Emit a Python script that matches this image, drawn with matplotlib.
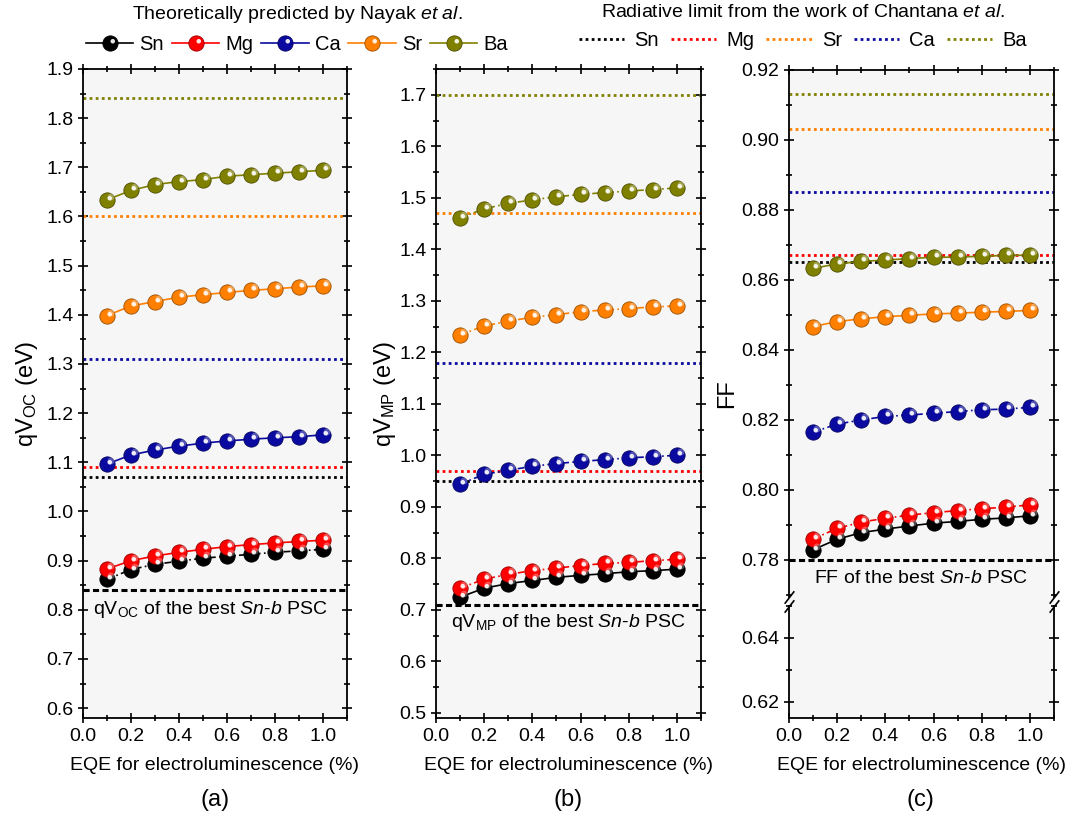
import numpy as np
import matplotlib
matplotlib.use("Agg")
import matplotlib.pyplot as plt
from matplotlib.lines import Line2D
from matplotlib.path import Path
from matplotlib.patches import Rectangle
from matplotlib.legend_handler import HandlerTuple
from matplotlib.ticker import MultipleLocator
import matplotlib.colors as mcolors

plt.rcParams['font.family'] = ['Liberation Sans', 'DejaVu Sans']
plt.rcParams['mathtext.fontset'] = 'custom'
plt.rcParams['mathtext.rm'] = 'Liberation Sans'
plt.rcParams['mathtext.it'] = 'Liberation Sans:italic'
plt.rcParams['mathtext.bf'] = 'Liberation Sans:bold'

# ---- data ----
eqe = [0.1, 0.2, 0.3, 0.4, 0.5, 0.6, 0.7, 0.8, 0.9, 1.0]
elements = ["Sn", "Mg", "Ca", "Sr", "Ba"]
limit_order = ["Sn", "Mg", "Sr", "Ca", "Ba"]
colors = {"Sn": "#000000", "Mg": "#ff0000", "Ca": "#0a0aa0", "Sr": "#ff8000", "Ba": "#808000"}

# (a) qVoc
voc_Sn = [0.862, 0.882, 0.8925, 0.899, 0.905, 0.909, 0.913, 0.917, 0.920, 0.923]
voc_Mg = [0.883, 0.900, 0.9095, 0.917, 0.923, 0.9286, 0.9327, 0.936, 0.939, 0.9415]
voc_Ca = [1.0966, 1.115, 1.125, 1.133, 1.139, 1.1435, 1.147, 1.150, 1.152, 1.156]
voc_Sr = [1.3986, 1.418, 1.427, 1.436, 1.4408, 1.4456, 1.4497, 1.453, 1.4565, 1.459]
voc_Ba = [1.634, 1.653, 1.665, 1.671, 1.675, 1.682, 1.685, 1.688, 1.691, 1.694]
voc_limit = {"Sn": 1.07, "Mg": 1.09, "Sr": 1.60, "Ca": 1.31, "Ba": 1.84}
voc_best = 0.84

# (b) qVmp
vmp_Sn = [0.7246, 0.742, 0.751, 0.757, 0.763, 0.767, 0.770, 0.774, 0.776, 0.779]
vmp_Mg = [0.742, 0.7595, 0.769, 0.776, 0.781, 0.786, 0.790, 0.792, 0.7955, 0.798]
vmp_Ca = [0.944, 0.963, 0.971, 0.9786, 0.984, 0.988, 0.9916, 0.995, 0.9974, 1.0]
vmp_Sr = [1.234, 1.251, 1.2605, 1.268, 1.273, 1.279, 1.282, 1.285, 1.288, 1.290]
vmp_Ba = [1.461, 1.4786, 1.489, 1.496, 1.502, 1.5065, 1.510, 1.513, 1.516, 1.519]
vmp_limit = {"Sn": 0.95, "Mg": 0.97, "Sr": 1.47, "Ca": 1.18, "Ba": 1.70}
vmp_best = 0.71

# (c) FF
ff_Sn = [0.7829, 0.7859, 0.7878, 0.7888, 0.7897, 0.7905, 0.7910, 0.7916, 0.7920, 0.7926]
ff_Mg = [0.7860, 0.7890, 0.7908, 0.7919, 0.7928, 0.7935, 0.7941, 0.7946, 0.7951, 0.7957]
ff_Ca = [0.8165, 0.8188, 0.8200, 0.8210, 0.8214, 0.8219, 0.8224, 0.8229, 0.8231, 0.8236]
ff_Sr = [0.8467, 0.8481, 0.8489, 0.8495, 0.8499, 0.8503, 0.8505, 0.8508, 0.8510, 0.8513]
ff_Ba = [0.8633, 0.8646, 0.8653, 0.8657, 0.8661, 0.8665, 0.8665, 0.8668, 0.8670, 0.8671]
ff_limit = {"Sn": 0.865, "Mg": 0.867, "Sr": 0.903, "Ca": 0.885, "Ba": 0.913}
ff_best = 0.78

SOLID = '-'
DASHDOT = (0, (4, 2, 1, 2))
DOTTED = (0, (1, 1.2))
DASHED = (0, (2, 1.1))
BG = '#f6f6f6'

# highlight marker: small circle shifted to the upper right of the ball centre
HL = Path.circle(center=(0.25, 0.25), radius=0.25)


def darker(c, f=0.6):
    r, g, b = mcolors.to_rgb(c)
    return (r * f, g * f, b * f)


def balls(ax, y, c, ls):
    ax.plot(eqe, y, color=c, lw=1.2, linestyle=ls, zorder=3)
    ax.plot(eqe, y, ls='none', marker='o', ms=11, mfc=c, mec=darker(c), mew=0.6, zorder=4)
    ax.plot(eqe, y, ls='none', marker=HL, ms=10, mfc='white', mec='none', alpha=0.3, zorder=5)
    ax.plot(eqe, y, ls='none', marker=HL, ms=6.5, mfc='white', mec='none', alpha=0.9, zorder=6)


def style(ax, top=True, bottom=True):
    ax.set_facecolor(BG)
    ax.set_xlim(0, 1.1)
    ax.xaxis.set_major_locator(MultipleLocator(0.2))
    ax.xaxis.set_minor_locator(MultipleLocator(0.1))
    ax.tick_params(which='both', direction='inout', width=1.2, labelsize=14,
                   top=top, bottom=bottom, left=True, right=True,
                   labelbottom=bottom, labeltop=False)
    ax.tick_params(which='major', length=7)
    ax.tick_params(which='minor', length=4)
    for s in ax.spines.values():
        s.set_linewidth(1.3)


W, H = 1065, 823
fig = plt.figure(figsize=(W / 100, H / 100), dpi=100)


def rect(x0, x1, y0, y1):
    return [x0 / W, 1 - y1 / H, (x1 - x0) / W, (y1 - y0) / H]


axa = fig.add_axes(rect(83, 347, 69, 718))
axb = fig.add_axes(rect(436, 701, 69, 718))
axc = fig.add_axes(rect(789, 1054, 70, 597))
axc2 = fig.add_axes(rect(789, 1054, 606, 718))

ls_a = {"Sn": DASHDOT, "Mg": SOLID, "Ca": SOLID, "Sr": SOLID, "Ba": SOLID}
ls_b = {"Sn": SOLID, "Mg": DASHDOT, "Ca": DASHDOT, "Sr": DASHDOT, "Ba": DASHDOT}
ls_c = {"Sn": SOLID, "Mg": DASHDOT, "Ca": DASHDOT, "Sr": SOLID, "Ba": SOLID}

panels = [
    (axa, dict(zip(elements, [voc_Sn, voc_Mg, voc_Ca, voc_Sr, voc_Ba])), voc_limit, voc_best, ls_a),
    (axb, dict(zip(elements, [vmp_Sn, vmp_Mg, vmp_Ca, vmp_Sr, vmp_Ba])), vmp_limit, vmp_best, ls_b),
    (axc, dict(zip(elements, [ff_Sn, ff_Mg, ff_Ca, ff_Sr, ff_Ba])), ff_limit, ff_best, ls_c),
]

for ax, series, limits, best, lss in panels:
    for el in limit_order:
        ax.axhline(limits[el], color=colors[el], lw=2, linestyle=DOTTED, zorder=2)
    ax.axhline(best, color='black', lw=2.2, linestyle=DASHED, zorder=2)
    for el in elements:
        balls(ax, series[el], colors[el], lss[el])

XLABEL = "EQE for electroluminescence (%)"

# panel (a)
style(axa)
axa.set_ylim(0.58, 1.9)
axa.yaxis.set_major_locator(MultipleLocator(0.1))
axa.yaxis.set_minor_locator(MultipleLocator(0.05))
axa.set_ylabel(r"qV$_{\rm OC}$ (eV)", fontsize=17, labelpad=4)
axa.set_xlabel(XLABEL, fontsize=14, labelpad=9)
axa.text(0.53, 0.8, r"qV$_{\rm OC}$ of the best $\it{Sn}$-$\it{b}$ PSC", fontsize=14,
         ha='center', va='center')

# panel (b)
style(axb)
axb.set_ylim(0.49, 1.75)
axb.yaxis.set_major_locator(MultipleLocator(0.1))
axb.yaxis.set_minor_locator(MultipleLocator(0.05))
axb.set_ylabel(r"qV$_{\rm MP}$ (eV)", fontsize=17, labelpad=1)
axb.set_xlabel(XLABEL, fontsize=14, labelpad=9)
axb.text(0.55, 0.676, r"qV$_{\rm MP}$ of the best $\it{Sn}$-$\it{b}$ PSC", fontsize=14,
         ha='center', va='center')

# panel (c) with broken axis
style(axc, top=True, bottom=False)
axc.set_ylim(0.7694, 0.92)
axc.yaxis.set_major_locator(MultipleLocator(0.02))
axc.yaxis.set_minor_locator(MultipleLocator(0.01))
axc.yaxis.set_major_formatter(lambda v, p: f"{v:.2f}")
axc.spines['bottom'].set_visible(False)
axc.text(0.547, 0.7748, r"FF of the best $\it{Sn}$-$\it{b}$ PSC", fontsize=14,
         ha='center', va='center')

style(axc2, top=False, bottom=True)
axc2.set_ylim(0.6149, 0.650)
axc2.set_yticks([0.62, 0.64])
axc2.yaxis.set_minor_locator(MultipleLocator(0.01))
axc2.yaxis.set_major_formatter(lambda v, p: f"{v:.2f}")
axc2.spines['top'].set_visible(False)
axc2.set_xlabel(XLABEL, fontsize=14, labelpad=9)

# fill the gap between the two halves and draw break marks
fig.add_artist(Rectangle((789 / W, 1 - 606 / H), 265 / W, 9 / H, transform=fig.transFigure,
                         facecolor=BG, edgecolor='none', zorder=0))
kw = dict(marker=[(-1, -1.3), (1, 1.3)], markersize=9, ls='none', color='k', mec='k',
          mew=1.2, clip_on=False, zorder=10)
axc.plot([0, 1], [0, 0], transform=axc.transAxes, **kw)
axc2.plot([0, 1], [1, 1], transform=axc2.transAxes, **kw)

fig.text(727 / W, 1 - 394 / H, "FF", rotation=90, fontsize=17, ha='center', va='center')

for lab, xc in [("(a)", 215), ("(b)", 568), ("(c)", 920)]:
    fig.text(xc / W, 1 - 800 / H, lab, fontsize=17, ha='center', va='center')

# legends
h1 = []
for el in elements:
    c = colors[el]
    ln = Line2D([], [], color=c, lw=1.2, marker='o', ms=11, mfc=c, mec=darker(c), mew=0.6)
    hl = Line2D([], [], ls='none', marker=HL, ms=6.5, mfc='white', mec='none', alpha=0.9)
    h1.append((ln, hl))
leg1 = fig.legend(h1, elements, loc='upper center', bbox_to_anchor=(297 / W, 1.012), ncol=5,
                  frameon=False, fontsize=14.5,
                  title=r"Theoretically predicted by Nayak $\it{et\ al.}$",
                  title_fontsize=14, handlelength=2.35, handletextpad=0.3, columnspacing=0.4,
                  borderpad=0.2, handler_map={tuple: HandlerTuple(ndivide=1)})

h2 = [Line2D([], [], color=colors[el], lw=2, linestyle=DOTTED) for el in limit_order]
leg2 = fig.legend(h2, limit_order, loc='upper center', bbox_to_anchor=(803 / W, 1.012), ncol=5,
                  frameon=False, fontsize=14.5,
                  title=r"Radiative limit from the work of Chantana $\it{et\ al.}$",
                  title_fontsize=14, handlelength=2.25, handletextpad=0.5, columnspacing=0.6,
                  borderpad=0.2)

fig.savefig("out.png", dpi=100)
